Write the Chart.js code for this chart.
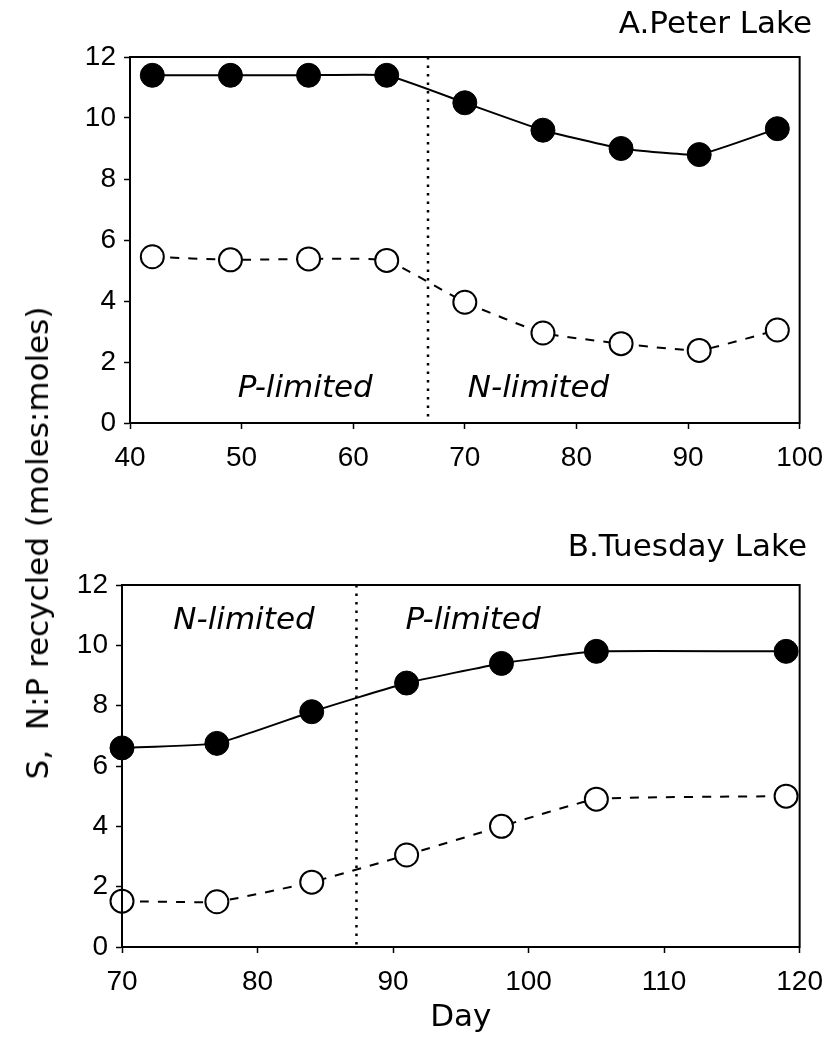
<!DOCTYPE html>
<html>
<head>
<meta charset="utf-8">
<script src="https://cdn.jsdelivr.net/npm/chart.js@4.4.1/dist/chart.umd.min.js"></script>
<style>
    html, body { margin: 0; padding: 0; background: #fff; }
    #page { position: relative; width: 835px; height: 1041px; overflow: hidden; }
    .panel { position: absolute; left: 0; width: 835px; }
    #panelA { top: 0; height: 500px; }
    #panelB { top: 500px; height: 541px; }
    #yLabel {
        position: absolute; left: 37px; top: 543px;
        transform: translate(-50%, -50%) rotate(-90deg);
        white-space: pre; font: 31px 'DejaVu Sans', sans-serif; color: #000;
    }
</style>
</head>
<body>
<div id="page">
    <div class="panel" id="panelA"><canvas id="chartA"></canvas></div>
    <div class="panel" id="panelB"><canvas id="chartB"></canvas></div>
    <div id="yLabel">S,  N:P recycled (moles:moles)</div>
</div>
<script>
// A. Peter Lake
const peterDays = [42, 49, 56, 63, 70, 77, 84, 91, 98];
const peterFilled = [11.4, 11.4, 11.4, 11.4, 10.5, 9.6, 9.0, 8.8, 9.65];
const peterOpen = [5.45, 5.35, 5.38, 5.33, 3.96, 2.95, 2.6, 2.38, 3.05];

// B. Tuesday Lake
const tuesdayDays = [70, 77, 84, 91, 98, 105, 119];
const tuesdayFilled = [6.6, 6.75, 7.8, 8.75, 9.4, 9.8, 9.8];
const tuesdayOpen = [1.52, 1.5, 2.15, 3.05, 4.0, 4.9, 5.0];

const yTicks = [0, 2, 4, 6, 8, 10, 12];

const tickFont = { family: "'Liberation Sans', Arial, sans-serif", size: 28 };
const textFont = "31px 'DejaVu Sans', sans-serif";

function toPoints(xs, ys) {
    return xs.map((x, i) => ({ x: x, y: ys[i] }));
}

// frame, dotted divider, panel title and region labels
const panelDecor = {
    id: 'panelDecor',
    beforeDatasetsDraw(chart, args, opts) {
        const { ctx, chartArea: a, scales } = chart;
        const x = scales.x.getPixelForValue(opts.divider);
        ctx.save();
        ctx.strokeStyle = '#000';
        ctx.lineWidth = 2.5;
        ctx.setLineDash([2.5, 6]);
        ctx.beginPath();
        ctx.moveTo(x, a.top);
        ctx.lineTo(x, a.bottom);
        ctx.stroke();
        ctx.restore();
    },
    afterDraw(chart, args, opts) {
        const { ctx, chartArea: a, scales } = chart;
        ctx.save();
        ctx.strokeStyle = '#000';
        ctx.lineWidth = 2;
        ctx.strokeRect(a.left, a.top, a.right - a.left, a.bottom - a.top);

        ctx.fillStyle = '#000';
        ctx.font = textFont;
        ctx.textAlign = 'right';
        ctx.textBaseline = 'middle';
        ctx.fillText(opts.title, opts.titleRight, opts.titleY);

        ctx.font = 'italic ' + textFont;
        ctx.textAlign = 'center';
        opts.regions.forEach(r => {
            ctx.fillText(r.text, scales.x.getPixelForValue(r.x), scales.y.getPixelForValue(r.y));
        });

        if (opts.xTitle) {
            ctx.font = textFont;
            ctx.fillText(opts.xTitle, (a.left + a.right) / 2, opts.xTitleY);
        }
        ctx.restore();
    }
};

function makeChart(canvasId, days, filled, open, xMin, xMax, layout, decor) {
    return new Chart(document.getElementById(canvasId), {
        type: 'scatter',
        data: {
            datasets: [
                {
                    data: toPoints(days, filled),
                    showLine: true,
                    borderColor: '#000',
                    borderWidth: 2,
                    backgroundColor: '#000',
                    pointRadius: 12,
                    pointBorderWidth: 1,
                    pointBorderColor: '#000',
                    pointBackgroundColor: '#000',
                    tension: 0.12,
                    clip: false
                },
                {
                    data: toPoints(days, open),
                    showLine: true,
                    borderColor: '#000',
                    borderWidth: 2,
                    borderDash: [9, 9],
                    backgroundColor: '#fff',
                    pointRadius: 11.5,
                    pointBorderWidth: 2,
                    pointBorderColor: '#000',
                    pointBackgroundColor: '#fff',
                    tension: 0.12,
                    clip: false
                }
            ]
        },
        options: {
            responsive: true,
            maintainAspectRatio: false,
            animation: false,
            events: [],
            layout: {
                padding: { left: 0, right: layout.right, top: layout.top, bottom: layout.bottom }
            },
            plugins: {
                legend: { display: false },
                tooltip: { enabled: false },
                panelDecor: decor
            },
            scales: {
                x: {
                    type: 'linear',
                    min: xMin,
                    max: xMax,
                    afterFit: (scale) => { scale.height = 60; },
                    grid: { drawOnChartArea: false, color: '#000', tickLength: 6, tickWidth: 1.5 },
                    border: { display: true, color: '#000', width: 2 },
                    ticks: { stepSize: 10, color: '#000', font: tickFont, padding: 12, maxRotation: 0 }
                },
                y: {
                    type: 'linear',
                    min: 0,
                    max: 12,
                    afterFit: (scale) => { scale.width = layout.left; },
                    afterBuildTicks: (scale) => { scale.ticks = yTicks.map(v => ({ value: v })); },
                    grid: { drawOnChartArea: false, color: '#000', tickLength: 6, tickWidth: 1.5 },
                    border: { display: true, color: '#000', width: 2 },
                    ticks: { color: '#000', font: tickFont, padding: 8 }
                }
            }
        },
        plugins: [panelDecor]
    });
}

document.addEventListener('DOMContentLoaded', () => {
    makeChart('chartA', peterDays, peterFilled, peterOpen, 40, 100,
        { left: 130, right: 27, top: 57, bottom: 17 },
        {
            title: 'A.Peter Lake', titleRight: 812, titleY: 25,
            divider: 66.7,
            regions: [
                { text: 'P-limited', x: 55.7, y: 1.1 },
                { text: 'N-limited', x: 76.6, y: 1.1 }
            ]
        });

    makeChart('chartB', tuesdayDays, tuesdayFilled, tuesdayOpen, 70, 120,
        { left: 122, right: 32, top: 85, bottom: 34 },
        {
            title: 'B.Tuesday Lake', titleRight: 807, titleY: 48,
            divider: 87.3,
            regions: [
                { text: 'N-limited', x: 79, y: 10.8 },
                { text: 'P-limited', x: 95.9, y: 10.8 }
            ],
            xTitle: 'Day', xTitleY: 518
        });
});
</script>
</body>
</html>
